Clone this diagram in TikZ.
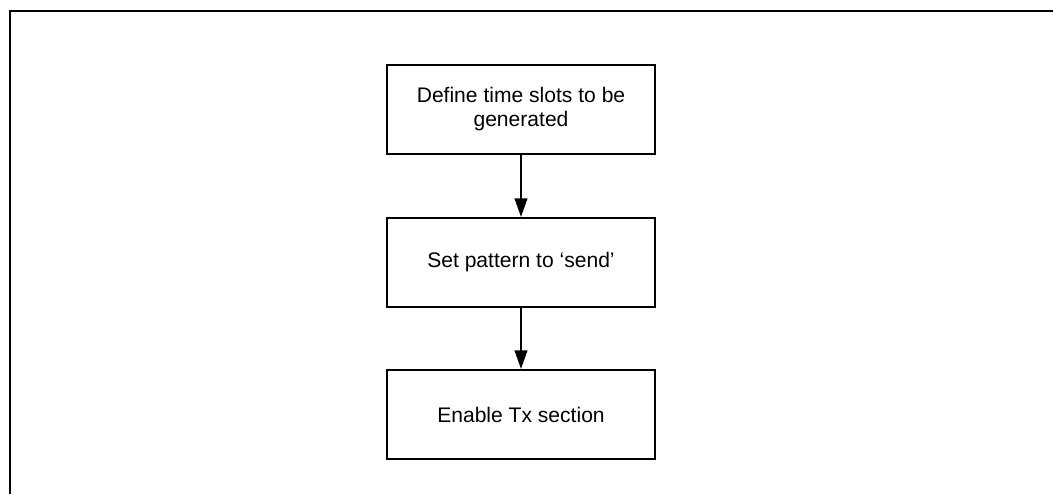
\documentclass[tikz,border=0pt]{standalone}
\usepackage{fontspec}
\setmainfont{Liberation Sans}
\usetikzlibrary{arrows.meta, positioning}

\begin{document}
\begin{tikzpicture}[x=0.75pt, y=-0.75pt, >={Triangle[length=14pt, width=9.5pt]}, line width=1.5pt,
    stepbox/.style={draw, rectangle, minimum width=201pt, minimum height=66.75pt,
        align=center, inner sep=0pt, font=\fontsize{15.8}{18}\selectfont}]
    \useasboundingbox (0,0) rectangle (1053,494);
    % frame, open on the right and at the bottom
    \coordinate (fbl) at (10,494);
    \coordinate (ftl) at (10,11);
    \coordinate (ftr) at (1053,11);
    \draw (fbl) -- (ftl) -- (ftr);
    % the three steps, top to bottom
    \node[stepbox] (define) at (521,109.5) {Define time slots to be\\generated};
    \node[stepbox] (pattern) at (521,262.5) {Set pattern to `send'};
    \node[stepbox] (enable) at (521,414.5) {Enable Tx section};
    % arrows between the steps
    \draw[->] (define) -- (pattern);
    \draw[->] (pattern) -- (enable);

\end{tikzpicture}
\end{document}
